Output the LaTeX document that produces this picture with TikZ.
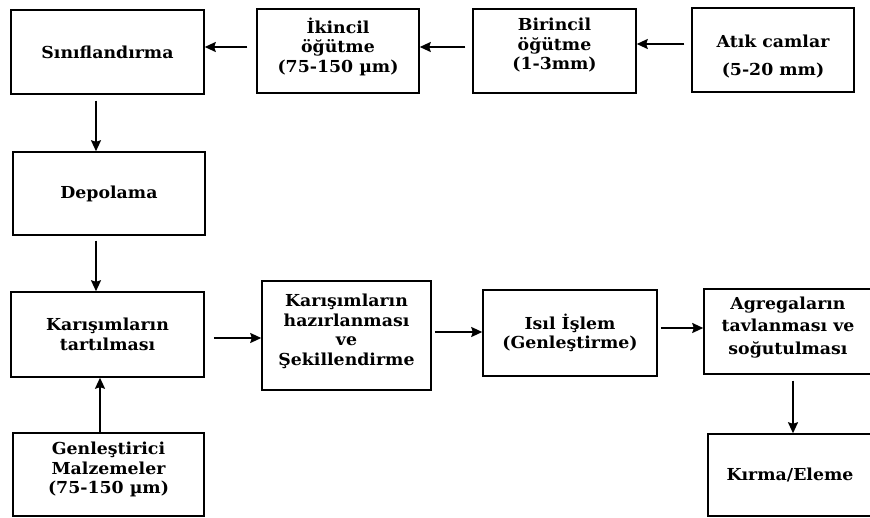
\documentclass[tikz,border=0pt]{standalone}
\usepackage{fontspec}
\setmainfont[FakeStretch=1.05]{DejaVu Serif}
\usetikzlibrary{arrows.meta}
\newcommand\mydn[1]{\rule[-#1]{0pt}{#1}}
\newcommand\myup[1]{\rule{0pt}{#1}}
\tikzset{
  box/.style={draw, line width=1.5pt, align=center, inner sep=0pt,
    font=\fontsize{16.5}{19.5}\selectfont\bfseries},
  arr/.style={line width=1.6pt, -{Stealth[length=11pt,width=10pt,inset=1.5pt]}}
}
\begin{document}
\begin{tikzpicture}[x=1pt,y=-1pt]
\useasboundingbox (0,0) rectangle (870,518);
% top row
\node[box, minimum width=193pt, minimum height=84pt] (A) at (107.5,52) {Sınıflandırma};
\node[box, minimum width=162pt, minimum height=84pt] (B) at (338,51) {İkincil\\öğütme\\(75-150 µm)\mydn{12pt}};
\node[box, minimum width=163pt, minimum height=84pt] (C) at (554.5,51) {Birincil\\öğütme\\(1-3mm)\mydn{14pt}};
\node[box, minimum width=162pt, minimum height=84pt] (D) at (773,50) {\myup{26pt}Atık camlar\\[8pt](5-20 mm)};
% left column
\node[box, minimum width=192pt, minimum height=83pt] (E) at (109,193.5) {Depolama};
\node[box, minimum width=193pt, minimum height=85pt] (F) at (107.5,334.5) {Karışımların\\tartılması};
\node[box, minimum width=191pt, minimum height=83pt] (J) at (108.5,474.5) {Genleştirici\\Malzemeler\\(75-150 µm)\mydn{13pt}};
% middle row
\node[box, minimum width=169pt, minimum height=109pt] (G) at (346.5,335.5) {Karışımların\\hazırlanması\\ve\\Şekillendirme\mydn{12pt}};
\node[box, minimum width=174pt, minimum height=86pt] (H) at (570,333) {Isıl İşlem\\(Genleştirme)};
\node[box, minimum width=168pt, minimum height=85pt] (I) at (788,331.5) {Agregaların\\[3pt]tavlanması ve\\[3pt]soğutulması\mydn{12pt}};
\node[box, minimum width=164pt, minimum height=82pt] (K) at (790,475) {Kırma/Eleme};
% connectors
\draw[arr] ([xshift=-9pt,yshift=4pt]B.west) coordinate (t1) -- (t1 -| A.east);
\draw[arr] ([xshift=-7pt,yshift=4pt]C.west) coordinate (t2) -- (t2 -| B.east);
\draw[arr] ([xshift=-7pt,yshift=6pt]D.west) coordinate (t3) -- (t3 -| C.east);
\draw[arr] ([xshift=-11.5pt,yshift=-6pt]A.south) coordinate (t4) -- (t4 |- E.north);
\draw[arr] ([xshift=-13pt,yshift=-5pt]E.south) coordinate (t5) -- (t5 |- F.north);
\draw[arr] ([xshift=9pt,yshift=-3.5pt]F.east) coordinate (t6) -- (t6 -| G.west);
\draw[arr] ([xshift=3pt,yshift=3.5pt]G.east) coordinate (t7) -- (t7 -| H.west);
\draw[arr] ([xshift=3pt,yshift=5pt]H.east) coordinate (t8) -- (t8 -| I.west);
\draw[arr] ([xshift=5pt,yshift=-6pt]I.south) coordinate (t9) -- (t9 |- K.north);
\draw[arr] ([xshift=-8.5pt]J.north) coordinate (t10) -- (t10 |- F.south);
\end{tikzpicture}
\end{document}
